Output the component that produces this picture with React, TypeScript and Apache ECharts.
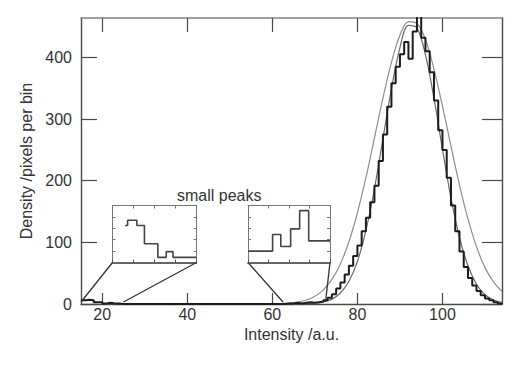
import React, { useEffect, useRef } from "react";
import * as echarts from "echarts";

// ---- data ----
const X_TICKS = [20, 40, 60, 80, 100];
const Y_TICKS = [0, 100, 200, 300, 400];
const X_RANGE = [15, 114];
const Y_RANGE = [0, 464];

// histogram: counts per 1-unit bin, first bin starts at 15
const HIST_START = 15;
const HIST_COUNTS = [
  6, 7, 6, 3, 3, 1, 2, 1, 1, 0, // 15-24
  0, 0, 0, 0, 0, 0, 0, 0, 0, 0, // 25-34
  0, 0, 0, 0, 0, 0, 0, 0, 0, 0, // 35-44
  0, 0, 0, 0, 0, 0, 0, 0, 0, 0, // 45-54
  0, 0, 0, 0, 0, 0, 0,          // 55-61
  0, 1, 1, 2, 1, 2, 3, 2, 3, 4, // 62-71
  6, 10, 16, 25, 35, 48, 62, 78, 95, 118, // 72-81
  140, 165, 192, 232, 275, 320, 358, 385, 405, 425, // 82-91
  398, 442, 468, 432, 410, 376, 330, 282, 250, 205, // 92-101
  160, 118, 85, 60, 42, 30, 21, 14, 9, 6, // 102-111
  3, 1, // 112-113
];

const FIT_X = [60, 62, 64, 66, 68, 70, 72, 74, 76, 78, 80, 82, 84, 86, 88, 90, 92, 94, 96, 98, 100, 102, 104, 106, 108, 110, 112, 114];
const WIDE_FIT = [0.3, 0.6, 1.5, 3.2, 6.5, 12.6, 23, 40, 65, 101, 148, 205, 269, 334, 392, 436, 458, 455, 429, 381, 321, 256, 193, 138, 93, 59, 36, 20.5];
const NARROW_FIT = [0, 0.1, 0.2, 0.4, 0.6, 1.2, 3.2, 7.9, 17.8, 36.8, 69, 119, 187, 268, 349, 416, 452, 448, 404, 334, 251, 172, 108, 62, 32, 15, 6.6, 2.6];

// insets ("small peaks")
const LEFT_INSET_RANGE = [15, 25];
const LEFT_INSET_EDGES = [16.5, 16.8, 17.9, 18.8, 20.4, 21.4, 22.2, 25];
const LEFT_INSET_LEVELS = [6.5, 7.4, 6.5, 3.3, 0.9, 1.9, 0.9, 0.9];
const RIGHT_INSET_RANGE = [62.5, 72.5];
const RIGHT_INSET_EDGES = [62.5, 65.5, 66.5, 67.7, 68.8, 69.9, 72.5];
const RIGHT_INSET_LEVELS = [2.0, 4.9, 2.8, 5.9, 9.1, 3.8, 3.8];
const INSET_Y_RANGE = [0, 10];

const FONT = "Liberation Sans, Arial, sans-serif";
const TEXT = "#333333";
const AXIS = "#4a4a4a";

function pairs(xs: number[], ys: number[]) {
  return xs.map((x, i) => [x, ys[i]]);
}

function insetAxes(gridIndex: number, range: number[], interval: number) {
  const common = {
    gridIndex,
    type: "value" as const,
    axisLabel: { show: false },
    splitLine: { show: false },
  };
  const x = [
    {
      ...common,
      position: "bottom",
      min: range[0],
      max: range[1],
      interval,
      axisLine: { onZero: false, lineStyle: { color: "#333", width: 1.6 } },
      axisTick: { inside: true, length: 3, lineStyle: { color: "#555" } },
    },
    {
      ...common,
      position: "top",
      min: range[0],
      max: range[1],
      interval,
      axisLine: { onZero: false, lineStyle: { color: "#777", width: 1 } },
      axisTick: { inside: true, length: 3, lineStyle: { color: "#777" } },
    },
  ];
  const y = [
    {
      ...common,
      position: "left",
      min: INSET_Y_RANGE[0],
      max: INSET_Y_RANGE[1],
      interval: 2,
      axisLine: { show: true, onZero: false, lineStyle: { color: "#777", width: 1 } },
      axisTick: { show: true, inside: true, length: 3, lineStyle: { color: "#777" } },
    },
    {
      ...common,
      position: "right",
      min: INSET_Y_RANGE[0],
      max: INSET_Y_RANGE[1],
      interval: 2,
      axisLine: { show: true, onZero: false, lineStyle: { color: "#777", width: 1 } },
      axisTick: { show: true, inside: true, length: 3, lineStyle: { color: "#777" } },
    },
  ];
  return { x, y };
}

export default function App() {
  const ref = useRef<HTMLDivElement>(null);

  useEffect(() => {
    if (!ref.current) return;
    const chart = echarts.init(ref.current, undefined, { renderer: "svg" });

    const histData = HIST_COUNTS.map((v, i) => [HIST_START + i, v]);
    histData.push([X_RANGE[1], HIST_COUNTS[HIST_COUNTS.length - 1]]);

    const leftInset = insetAxes(1, LEFT_INSET_RANGE, 2.5);
    const rightInset = insetAxes(2, RIGHT_INSET_RANGE, 2.5);

    const option: any = {
      animation: false,
      backgroundColor: "#ffffff",
      textStyle: { fontFamily: FONT },
      grid: [
        { left: 81, top: 18, width: 421, height: 286 },
        { left: 112.5, top: 205.5, width: 84, height: 57 },
        { left: 248, top: 205.5, width: 82, height: 57 },
      ],
      xAxis: [
        {
          gridIndex: 0,
          type: "value",
          position: "bottom",
          min: X_RANGE[0],
          max: X_RANGE[1],
          axisLine: { onZero: false, lineStyle: { color: AXIS, width: 1.4 } },
          axisTick: { inside: true, length: 11, customValues: X_TICKS, lineStyle: { color: AXIS, width: 1.2 } },
          axisLabel: { customValues: X_TICKS, margin: 2, fontSize: 16, color: TEXT, fontFamily: FONT },
          splitLine: { show: false },
          name: "Intensity /a.u.",
          nameLocation: "middle",
          nameGap: 18,
          nameTextStyle: { fontSize: 16, color: TEXT, fontFamily: FONT },
        },
        {
          gridIndex: 0,
          type: "value",
          position: "top",
          min: X_RANGE[0],
          max: X_RANGE[1],
          axisLine: { onZero: false, lineStyle: { color: "#7d8a78", width: 1.6 } },
          axisTick: { inside: true, length: 14, customValues: X_TICKS, lineStyle: { color: AXIS, width: 1.2 } },
          axisLabel: { show: false },
          splitLine: { show: false },
        },
        ...leftInset.x,
        ...rightInset.x,
      ],
      yAxis: [
        {
          gridIndex: 0,
          type: "value",
          position: "left",
          min: Y_RANGE[0],
          max: Y_RANGE[1],
          axisLine: { show: true, onZero: false, lineStyle: { color: AXIS, width: 1.4 } },
          axisTick: { show: true, inside: true, length: 16, customValues: Y_TICKS, lineStyle: { color: AXIS, width: 1.2 } },
          axisLabel: { customValues: Y_TICKS, margin: 9, fontSize: 16, color: TEXT, fontFamily: FONT },
          splitLine: { show: false },
          name: "Density /pixels per bin",
          nameLocation: "middle",
          nameGap: 37,
          nameTextStyle: { fontSize: 16, color: TEXT, fontFamily: FONT },
        },
        {
          gridIndex: 0,
          type: "value",
          position: "right",
          min: Y_RANGE[0],
          max: Y_RANGE[1],
          axisLine: { show: true, onZero: false, lineStyle: { color: AXIS, width: 1.4 } },
          axisTick: { show: true, inside: true, length: 20, customValues: Y_TICKS, lineStyle: { color: AXIS, width: 1.2 } },
          axisLabel: { show: false },
          splitLine: { show: false },
        },
        ...leftInset.y,
        ...rightInset.y,
      ],
      series: [
        {
          name: "wide fit",
          type: "line",
          xAxisIndex: 0,
          yAxisIndex: 0,
          data: pairs(FIT_X, WIDE_FIT),
          smooth: 0.35,
          symbol: "none",
          lineStyle: { color: "#8e8e8e", width: 1.2 },
          z: 2,
        },
        {
          name: "narrow fit",
          type: "line",
          xAxisIndex: 0,
          yAxisIndex: 0,
          data: pairs(FIT_X, NARROW_FIT),
          smooth: 0.35,
          symbol: "none",
          lineStyle: { color: "#6a6a6a", width: 1.2 },
          z: 2,
        },
        {
          name: "histogram",
          type: "line",
          xAxisIndex: 0,
          yAxisIndex: 0,
          data: histData,
          step: "end",
          symbol: "none",
          lineStyle: { color: "#1c1c1c", width: 2 },
          z: 3,
        },
        {
          name: "small peak 1",
          type: "line",
          xAxisIndex: 2,
          yAxisIndex: 2,
          data: pairs(LEFT_INSET_EDGES, LEFT_INSET_LEVELS),
          step: "end",
          symbol: "none",
          lineStyle: { color: "#444", width: 1.6 },
        },
        {
          name: "small peak 2",
          type: "line",
          xAxisIndex: 4,
          yAxisIndex: 4,
          data: pairs(RIGHT_INSET_EDGES, RIGHT_INSET_LEVELS),
          step: "end",
          symbol: "none",
          lineStyle: { color: "#444", width: 1.6 },
        },
      ],
    };
    chart.setOption(option);

    // connector lines from zoomed regions to inset frames
    const px = (finder: any, v: number[]) => chart.convertToPixel(finder, v) as number[];
    const main = { xAxisIndex: 0, yAxisIndex: 0 };
    const l1 = px({ xAxisIndex: 2, yAxisIndex: 2 }, [LEFT_INSET_RANGE[0], INSET_Y_RANGE[0]]);
    const l2 = px({ xAxisIndex: 2, yAxisIndex: 2 }, [LEFT_INSET_RANGE[1], INSET_Y_RANGE[0]]);
    const r1 = px({ xAxisIndex: 4, yAxisIndex: 4 }, [RIGHT_INSET_RANGE[0], INSET_Y_RANGE[0]]);
    const r2 = px({ xAxisIndex: 4, yAxisIndex: 4 }, [RIGHT_INSET_RANGE[1], INSET_Y_RANGE[0]]);
    const m1 = px(main, [LEFT_INSET_RANGE[0], 0]);
    const m2 = px(main, [LEFT_INSET_RANGE[1], 0]);
    const m3 = px(main, [RIGHT_INSET_RANGE[0], 0]);
    const m4 = px(main, [RIGHT_INSET_RANGE[1], 0]);
    const lineStyle = { stroke: "#333", lineWidth: 1.3 };
    const conn = (a: number[], b: number[]) => ({
      type: "line",
      shape: { x1: a[0], y1: a[1], x2: b[0], y2: b[1] - 2 },
      style: lineStyle,
      silent: true,
      z: 10,
    });
    chart.setOption({
      graphic: [
        conn(l1, m1),
        conn(l2, m2),
        conn(r1, m3),
        conn(r2, m4),
        {
          type: "text",
          x: (l2[0] + r1[0]) / 2 - 3,
          y: l1[1] - 67,
          style: {
            text: "small peaks",
            fontSize: 16,
            fontFamily: FONT,
            fill: TEXT,
            textAlign: "center",
            textVerticalAlign: "middle",
          },
          silent: true,
        },
      ],
    });

    return () => chart.dispose();
  }, []);

  return (
    <div
      ref={ref}
      style={{ position: "fixed", left: 0, top: 0, width: 515, height: 366, background: "#fff" }}
    />
  );
}
